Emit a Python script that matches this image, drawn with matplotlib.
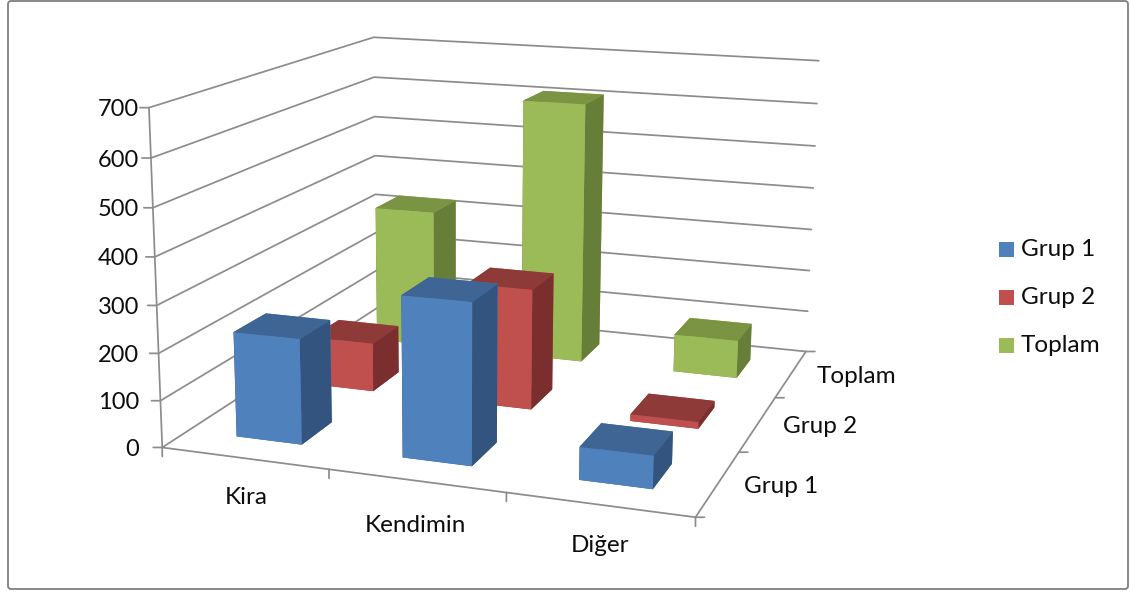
import matplotlib
matplotlib.use("Agg")
import matplotlib.pyplot as plt
from matplotlib.patches import FancyBboxPatch, Rectangle
from mpl_toolkits.mplot3d import proj3d

categories = ["Kira", "Kendimin", "Diğer"]
series = ["Grup 1", "Grup 2", "Toplam"]
grup1 = [225, 338, 68]
grup2 = [110, 268, 15]
toplam = [328, 610, 88]
zticks = [0, 100, 200, 300, 400, 500, 600, 700]
colors = [
    {"front": "#4F81BD", "top": "#3E6594", "side": "#32547E"},
    {"front": "#C0504D", "top": "#8E3A38", "side": "#7A2F2E"},
    {"front": "#9BBB59", "top": "#7A9444", "side": "#667E38"},
]
LINE = "#8C8C8C"
TEXT = "#0D0D0D"
W, H = 1130, 592

plt.rcParams["font.family"] = ["Lato", "DejaVu Sans"]
fig = plt.figure(figsize=(W / 100, H / 100), dpi=100)
side = 772.13
ax = fig.add_axes([114.52 / W, -46.53 / H, side / W, side / H], projection="3d", computed_zorder=False)
ax.set_proj_type("persp", focal_length=0.4565)
ax.view_init(elev=13.6464, azim=-71.1276, roll=-0.363)
ax.set_box_aspect((1.5887, 1.6007, 1.0), zoom=1.0)
ax.set_xlim(0, 3); ax.set_ylim(0, 3); ax.set_zlim(0, 700)
ax.set_axis_off()
ax.patch.set_alpha(0)

line_kw = dict(color=LINE, lw=1.25, zorder=1, solid_capstyle="round")
for z in zticks:
    ax.plot([0, 0, 3], [0, 3, 3], [z, z, z], **line_kw)
ax.plot([0, 3, 3], [0, 0, 3], [0, 0, 0], **line_kw)
ax.plot([0, 0], [0, 0], [0, 700], **line_kw)

w = 0.4
zo = 2
for si in (2, 1, 0):
    vals = [grup1, grup2, toplam][si]
    c = colors[si]
    face = [c["top"], c["top"], c["front"], c["front"], c["side"], c["side"]]
    for ci, v in enumerate(vals):
        ax.bar3d(ci + (1 - w) / 2, si + (1 - w) / 2, 0, w, w, v, color=face,
                 shade=False, edgecolor="none", linewidth=0, zorder=zo)
        zo += 1

M = ax.get_proj()
def pr(x, y, z):
    a, b, _ = proj3d.proj_transform(x, y, z, M)
    return float(a), float(b)

def tick(x, y, z, dx, dy):
    ax.annotate("", xy=pr(x, y, z), xytext=(dx, dy), textcoords="offset pixels", annotation_clip=False,
                arrowprops=dict(arrowstyle="-", color=LINE, lw=1.25, shrinkA=0, shrinkB=0), zorder=1)

for z in zticks:
    tick(0, 0, z, -9, 0)
for i in range(4):
    tick(i, 0, 0, 0, -9)
    tick(3, i, 0, 9, 0)

FS = 17.5
x_offsets = [(2, -39), (-1, -45), (1, -41)]
for ci, lab in enumerate(categories):
    ax.annotate(lab, xy=pr(ci + 0.5, 0, 0), xytext=x_offsets[ci], textcoords="offset pixels", annotation_clip=False,
                ha="center", va="center", fontsize=FS, color=TEXT, zorder=50)
y_offsets = [(26, -3), (25, -3), (26, -3)]
for si, lab in enumerate(series):
    ax.annotate(lab, xy=pr(3, si + 0.5, 0), xytext=y_offsets[si], textcoords="offset pixels", annotation_clip=False,
                ha="left", va="center", fontsize=FS, color=TEXT, zorder=50)
for z in zticks:
    ax.annotate(str(z), xy=(139, pr(0, 0, z)[1]), xycoords=("figure pixels", "data"), xytext=(0, -2),
                textcoords="offset pixels", annotation_clip=False,
                ha="right", va="center", fontsize=17, color=TEXT, zorder=50)

fig.add_artist(FancyBboxPatch((8, 3), 1120, 588, boxstyle="round,pad=0,rounding_size=3",
                              transform=None, fc="none", ec="#7F7F7F", lw=1.3, zorder=0))
for c, s, yy in zip(colors, series, [249, 297, 345]):
    fig.add_artist(Rectangle((999, H - yy - 7.5), 15, 15, transform=None, fc=c["front"], ec="none"))
    fig.text(1021 / W, 1 - yy / H, s, fontsize=FS, color=TEXT, ha="left", va="center")

fig.savefig("out.png", dpi=100)
